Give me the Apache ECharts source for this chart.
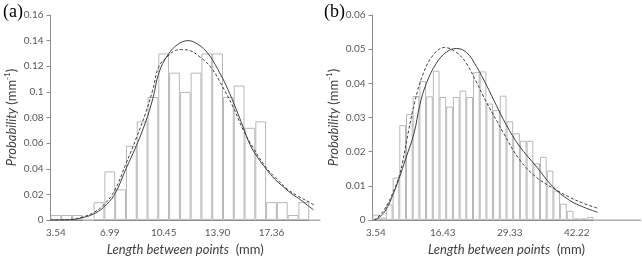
<!DOCTYPE html>
<html>
<head>
<meta charset="utf-8">
<script src="https://cdn.jsdelivr.net/npm/echarts@6/dist/echarts.min.js"></script>
<style>
  html, body { margin: 0; padding: 0; background: #fff; }
  #main { width: 642px; height: 261px; }
</style>
</head>
<body>
<div id="main"></div>
<script>
// 分类标签 (a) 25 bins, (b) 40 bins
var catA = ['3.54','','','','','6.99','','','','','10.45','','','','','13.90','','','','','17.36','','','',''];
var catB = ['3.54','','','','','','','','','','16.43','','','','','','','','','','29.33','','','','','','','','','','42.22','','','','','','','','',''];

// histogram heights
var barsA = [0.004,0.004,0.004,0,0.014,0.038,0.024,0.058,0.077,0.096,0.130,0.115,0.100,0.115,0.130,0.130,0.096,0.105,0.072,0.077,0.014,0.014,0.004,0.014,0];
var barsB = [0.0016,0.0007,0.0046,0.0124,0.0278,0.031,0.0363,0.0407,0.0362,0.0437,0.036,0.0332,0.036,0.0379,0.036,0.0433,0.0435,0.0341,0.0322,0.0364,0.0289,0.0254,0.0232,0.0232,0.0166,0.0185,0.0145,0.0086,0.0048,0.0027,0.0005,0.0005,0.0009,0,0,0,0,0,0,0];

// fitted curves, x in bin units from the left edge of the axis
var solidA = [[0,0],[1,0.0001],[2,0.0004],[3,0.002],[3.93,0.0045],[4.9,0.0098],[5.94,0.020],[7,0.040],[7.96,0.058],[8.8,0.076],[9.5,0.095],[10.06,0.115],[10.9,0.129],[11.8,0.137],[12.76,0.140],[13.7,0.137],[14.6,0.130],[15.5,0.118],[16.4,0.103],[17.2,0.087],[17.9,0.072],[18.5,0.059],[19.2,0.049],[20.0,0.040],[20.8,0.032],[21.6,0.026],[22.3,0.021],[23.0,0.017],[23.7,0.0125],[24.4,0.008]];
var dashA = [[0,0],[1,0.0002],[2,0.0006],[3,0.0025],[3.93,0.0055],[4.9,0.0115],[5.94,0.023],[7,0.044],[7.96,0.064],[8.8,0.083],[9.5,0.102],[10.06,0.120],[10.9,0.128],[11.5,0.132],[12.14,0.133],[13,0.132],[13.9,0.127],[14.9,0.119],[15.9,0.105],[16.9,0.089],[17.9,0.070],[18.9,0.055],[20.0,0.041],[21,0.032],[22,0.024],[23,0.0185],[24,0.014],[24.5,0.0115]];
var solidB = [[0.3,0],[1,0.0008],[2,0.003],[3,0.0072],[3.97,0.0122],[4.96,0.018],[6.2,0.0254],[7.05,0.0336],[8.04,0.040],[9.53,0.0459],[11.0,0.0491],[12.5,0.0502],[14.0,0.0491],[15.5,0.045],[17,0.0395],[18.5,0.0335],[19.93,0.028],[21.9,0.0217],[24.4,0.0158],[26.9,0.0098],[29.4,0.0058],[31.5,0.0038],[33.56,0.0023]];
var dashB = [[0.2,0],[1,0.0012],[2,0.0038],[3,0.0078],[3.97,0.0128],[4.5,0.017],[5.31,0.0254],[6.3,0.0345],[7.54,0.0427],[9.03,0.0482],[10.76,0.0505],[12.5,0.0491],[14,0.0459],[15.5,0.0404],[17,0.0345],[18.7,0.0285],[19.4,0.026],[21.9,0.0178],[24.4,0.0126],[26.9,0.0094],[29.4,0.0067],[31.5,0.0049],[33.56,0.0035]];

var labelColor = '#595959';
var lineColor = '#404040';
var axisGray = '#8c8c8c';
var fontFam = 'Lato, "Open Sans", sans-serif';

var xName = {
    name: '{i|Length between points}{n|  (mm)}',
    nameLocation: 'middle',
    nameGap: 22,
    nameTextStyle: {
        color: lineColor, fontFamily: fontFam, fontSize: 13,
        rich: {
            i: { fontStyle: 'italic', fontSize: 13, color: lineColor, fontFamily: fontFam },
            n: { fontSize: 13, color: lineColor, fontFamily: fontFam }
        }
    }
};
var yName = {
    name: '{i|Probability}{n| (mm}{s|-1}{n|)}',
    nameLocation: 'middle',
    nameRotate: 90,
    nameTextStyle: {
        color: lineColor, fontFamily: fontFam, fontSize: 13,
        rich: {
            i: { fontStyle: 'italic', fontSize: 13, color: lineColor, fontFamily: fontFam, lineHeight: 16 },
            n: { fontSize: 13, color: lineColor, fontFamily: fontFam, lineHeight: 16 },
            s: { fontSize: 8, color: lineColor, fontFamily: fontFam, verticalAlign: 'top', lineHeight: 10 }
        }
    }
};

function catAxis(idx, data) {
    return Object.assign({
        type: 'category', gridIndex: idx, data: data,
        axisLine: { lineStyle: { color: axisGray, width: 1 } },
        axisTick: { interval: 0, length: 4, lineStyle: { color: axisGray } },
        axisLabel: { interval: 0, margin: 8, color: labelColor, fontSize: 10, fontFamily: fontFam },
        splitLine: { show: false }
    }, xName);
}
function valAxisX(idx, max) {
    return { type: 'value', gridIndex: idx, min: 0, max: max, show: false };
}
function valAxisY(idx, max, step, gap) {
    return Object.assign({}, yName, {
        type: 'value', gridIndex: idx, min: 0, max: max, interval: step,
        nameGap: gap,
        axisLine: { show: true, lineStyle: { color: axisGray, width: 1 } },
        axisTick: { show: true, length: 4, lineStyle: { color: axisGray } },
        axisLabel: { margin: 7, color: labelColor, fontSize: 10, fontFamily: fontFam },
        splitLine: { show: false }
    });
}
function barSeries(xi, yi, data) {
    return {
        type: 'bar', xAxisIndex: xi, yAxisIndex: yi, data: data,
        barCategoryGap: '0%', silent: true,
        itemStyle: { color: '#ffffff', borderColor: '#b8b8b8', borderWidth: 1 }
    };
}
function curve(xi, yi, data, dashed) {
    return {
        type: 'line', xAxisIndex: xi, yAxisIndex: yi, data: data,
        smooth: 0.4, showSymbol: false, silent: true,
        lineStyle: { color: lineColor, width: 1, type: dashed ? [3, 2] : 'solid' }
    };
}

var chart = echarts.init(document.getElementById('main'), null, { renderer: 'canvas' });
chart.setOption({
    animation: false,
    backgroundColor: '#fff',
    grid: [
        { left: 50.5, top: 15, width: 269.5, height: 207.7 },
        { left: 372.5, top: 15, width: 268, height: 207.7 }
    ],
    xAxis: [
        catAxis(0, catA),
        catAxis(1, catB),
        valAxisX(0, catA.length),
        valAxisX(1, catB.length)
    ],
    yAxis: [
        valAxisY(0, 0.16, 0.02, 31),
        valAxisY(1, 0.06, 0.01, 31)
    ],
    graphic: [
        { type: 'text', left: 3, top: 3, style: { text: '(a)', font: '18px "Liberation Serif", serif', fill: '#000' } },
        { type: 'text', left: 324, top: 3, style: { text: '(b)', font: '18px "Liberation Serif", serif', fill: '#000' } }
    ],
    series: [
        barSeries(0, 0, barsA),
        barSeries(1, 1, barsB),
        curve(2, 0, solidA, false),
        curve(2, 0, dashA, true),
        curve(3, 1, solidB, false),
        curve(3, 1, dashB, true)
    ]
});
</script>
</body>
</html>
